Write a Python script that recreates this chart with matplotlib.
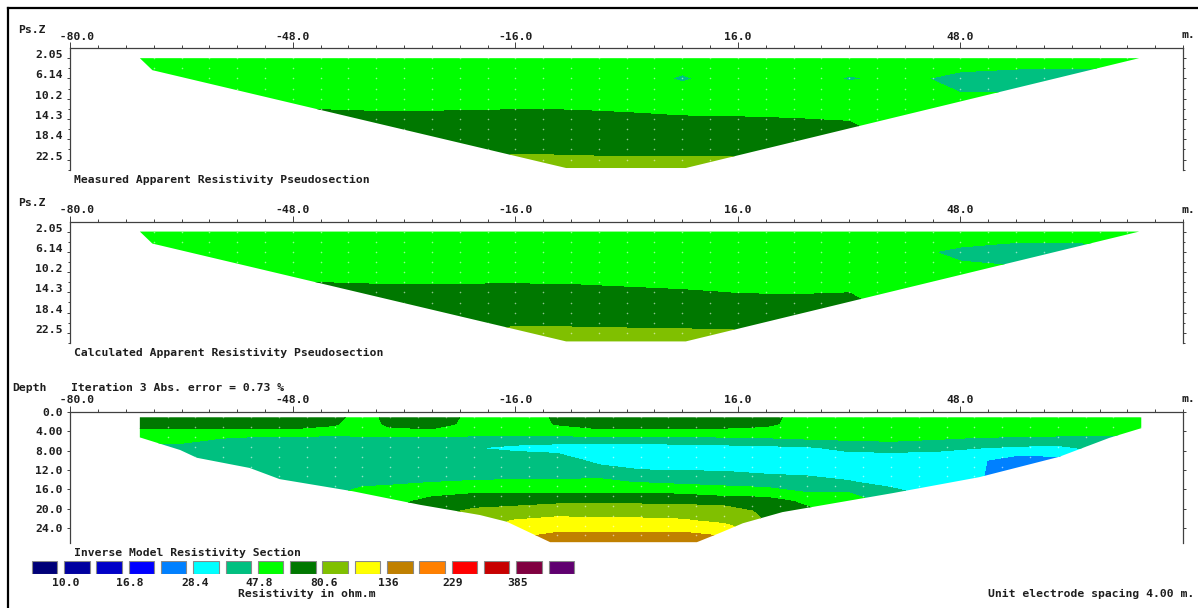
import numpy as np
import matplotlib
matplotlib.use("Agg")
import matplotlib.pyplot as plt
from matplotlib.patches import Polygon
from matplotlib.lines import Line2D
from matplotlib.ticker import FixedLocator

plt.rcParams["font.family"] = "DejaVu Sans Mono"
plt.rcParams["font.weight"] = "bold"
plt.rcParams["font.size"] = 8.2
plt.rcParams["text.color"] = "#1e1e1e"
plt.rcParams["xtick.color"] = "#404040"
plt.rcParams["ytick.color"] = "#404040"
plt.rcParams["xtick.labelcolor"] = "#1e1e1e"
plt.rcParams["ytick.labelcolor"] = "#1e1e1e"

# ---- colour scale (ohm.m) ----
RES_BOUNDS = [10.0, 12.96, 16.8, 21.8, 28.4, 36.8, 47.8, 62.0, 80.6, 104.6,
              136, 176.5, 229, 297, 385, 499]
RES_COLORS = ["#000078", "#0000a0", "#0000c8", "#0000ff", "#0080ff", "#00ffff",
              "#00c080", "#00ff00", "#007800", "#80c000", "#ffff00", "#c08000",
              "#ff8000", "#ff0000", "#c80000", "#800040", "#600070"]
LEGEND_LABELS = ["10.0", "16.8", "28.4", "47.8", "80.6", "136", "229", "385"]

X_TICKS = [-80, -48, -16, 16, 48]
X_TICK_LABELS = ["  -80.0", "-48.0", "-16.0", "16.0", "48.0"]
PS_TICKS = [2.05, 6.14, 10.2, 14.3, 18.4, 22.5]
PS_TICK_LABELS = ["2.05", "6.14", "10.2", "14.3", "18.4", "22.5"]
DEPTH_TICKS = [0, 4, 8, 12, 16, 20, 24]
DEPTH_TICK_LABELS = ["0.0", "4.00", "8.00", "12.0", "16.0", "20.0", "24.0"]

# ---- apparent resistivity pseudosections ----
PS_X = [-72, -64, -56, -48, -40, -32, -24, -16, -8, 0, 8, 16, 24, 32, 40, 48, 56, 64, 72, 80]
PS_Z = [2.05, 6.14, 10.2, 14.3, 18.4, 22.5, 24.6]
MEASURED = [
    [54, 54, 54, 54, 54, 54, 54, 54, 54, 54, 54, 54, 54, 54, 54, 54, 54, 54, 54, 54],
    [54, 54, 54, 54, 54, 54, 54, 54, 54, 54, 46.5, 54, 54, 47, 50, 45, 43, 42, 44, 50],
    [54, 54, 54, 54, 54, 54, 54, 54, 54, 54, 54, 54, 54, 54, 54, 49, 50, 50, 52, 54],
    [72, 72, 72, 72, 68, 67, 68, 69.5, 69, 66, 63.5, 63, 62.2, 61, 56, 54, 54, 54, 54, 54],
    [72, 72, 72, 72, 72, 72, 72, 72, 72, 72, 72, 72, 72, 70, 58, 54, 54, 54, 54, 54],
    [72, 72, 72, 72, 72, 72, 78, 84, 83, 82, 82, 82, 78, 72, 60, 54, 54, 54, 54, 54],
    [75, 75, 75, 75, 75, 75, 80, 88, 88, 88, 88, 88, 80, 75, 62, 54, 54, 54, 54, 54],
]
CALCULATED = [
    [54, 54, 54, 54, 54, 54, 54, 54, 54, 54, 54, 54, 54, 54, 54, 54, 54, 54, 54, 54],
    [54, 54, 54, 54, 54, 54, 54, 54, 54, 54, 54, 54, 54, 54, 50, 46, 43, 43, 45, 50],
    [54, 54, 54, 54, 54, 54, 54, 54, 54, 54, 54, 54, 54, 54, 54, 50, 50, 50, 52, 54],
    [72, 72, 72, 72, 69, 67, 68, 68.5, 67.5, 65, 63.3, 61.5, 61, 61.8, 56, 54, 54, 54, 54, 54],
    [72, 72, 72, 72, 72, 72, 72, 72, 72, 72, 72, 70, 70, 70, 58, 54, 54, 54, 54, 54],
    [72, 72, 72, 72, 72, 72, 78, 85.4, 84.5, 83.6, 83, 82.5, 78, 72, 60, 54, 54, 54, 54, 54],
    [75, 75, 75, 75, 75, 75, 80, 88, 88, 88, 88, 88, 80, 75, 62, 54, 54, 54, 54, 54],
]
# data coverage of the pseudosections
PS_EDGE_X = [-70.0, -68.2, -8.7, 8.5, 73.7]
PS_EDGE_Z = [2.05, 4.47, 24.2, 24.2, 2.05]

# ---- inverse model ----
MODEL_X = [-72, -64, -56, -48, -42, -38, -34, -28, -22, -16, -10, -4, 2, 8, 14, 20,
           26, 32, 38, 44, 50, 56, 62, 68, 76]
MODEL_Z = [1.0, 2.5, 4.0, 5.5, 7.5, 10.0, 12.5, 14.5, 16.5, 18.5, 20.5, 22.5, 24.5, 26.5, 27.5]
MODEL_RES = [
    [71, 71, 71, 71, 68, 54, 68, 71, 58, 54, 64, 71, 71, 71, 71, 68, 54, 54, 54, 54, 54, 54, 54, 54, 54],
    [71, 71, 71, 71, 64, 52, 67, 71, 56, 54, 63, 71, 71, 71, 70, 66, 54, 54, 54, 54, 54, 54, 54, 54, 54],
    [58, 58, 58, 58, 56, 52, 57, 58, 54, 54, 56, 58, 58, 58, 57, 56, 54, 54, 54, 54, 54, 54, 54, 54, 54],
    [54, 52, 46, 44, 44, 46, 44, 44, 45, 44, 44, 44, 44, 45, 46, 47, 49, 50, 51, 49, 47, 46, 45, 44, 44],
    [45, 44, 42, 42, 42, 42, 42, 42, 37, 34, 32, 32, 32, 32, 33, 34, 35, 40, 41, 40, 37, 35, 34, 40, 40],
    [42, 42, 42, 42, 42, 42, 42, 42, 42, 45, 44, 33, 31, 30, 30, 30, 30, 30, 30, 30, 30, 25, 26, 32, 32],
    [44, 44, 42, 42, 42, 42, 42, 42, 42, 42, 42, 44, 38.5, 38, 37.5, 35.5, 34, 33, 31, 30, 30, 24, 25, 30, 30],
    [42, 42, 42, 42, 42, 42.5, 45, 47.5, 49, 50, 50, 50, 47, 45, 44, 43, 42, 37.5, 33, 31, 30, 24, 25, 30, 30],
    [42, 42, 42, 42, 44, 54, 54, 56, 60, 60, 60, 60, 60, 58, 54, 52, 47, 47, 40, 33, 32, 25, 25, 30, 30],
    [42, 42, 42, 44, 50, 54, 56, 68, 71, 71, 76, 76, 76, 75, 72, 71, 58, 54, 44, 35, 32, 25, 25, 30, 30],
    [42, 42, 44, 50, 54, 56, 62, 72, 85, 92, 95, 95, 95, 94, 92, 76, 66, 56, 46, 40, 32, 25, 25, 30, 30],
    [42, 44, 48, 54, 58, 62, 70, 80, 95, 106, 112, 110, 109, 107, 100, 80, 70, 60, 50, 42, 34, 26, 26, 30, 30],
    [42, 44, 50, 56, 62, 68, 78, 88, 100, 120, 130, 130, 130, 130, 118, 95, 80, 66, 54, 44, 36, 28, 28, 30, 30],
    [42, 44, 50, 58, 66, 75, 88, 100, 118, 140, 162, 165, 168, 168, 150, 115, 90, 72, 58, 46, 38, 30, 30, 30, 30],
    [42, 44, 50, 58, 66, 75, 88, 100, 120, 145, 168, 172, 175, 182, 160, 120, 95, 76, 60, 48, 40, 32, 30, 30, 30],
]
MODEL_EDGE_X = [-70.0, -70.0, -64.2, -61.8, -54.2, -49.9, -39.4, -29.7, -21.1, -17.2, -11.0,
                10.1, 13.4, 16.7, 22.4, 38.2, 50.7, 62.2, 69.4, 74.0, 74.0]
MODEL_EDGE_Z = [1.15, 5.3, 7.9, 9.5, 11.6, 13.9, 16.4, 19.2, 21.3, 22.7, 26.9,
                26.9, 25.0, 23.0, 20.7, 16.8, 13.5, 9.3, 5.4, 3.4, 1.15]

W, H = 1198, 608
fig = plt.figure(figsize=(W / 100, H / 100), dpi=100)


def px_axes(left, top, right, bottom):
    return fig.add_axes([left / W, 1 - bottom / H, (right - left) / W, (bottom - top) / H])


def px_text(x, y, s, **kw):
    kw.setdefault("va", "center")
    fig.text(x / W, 1 - y / H, s, **kw)


def draw_section(ax, xs, zs, values, edge_x, edge_z, dot_x, dot_z):
    X, Z = np.meshgrid(xs, zs)
    levels = np.log10([1.0] + RES_BOUNDS + [1e4])
    cs = ax.contourf(X, Z, np.log10(np.array(values, dtype=float)),
                     levels=levels, colors=RES_COLORS)
    clip = Polygon(np.column_stack([edge_x, edge_z]), closed=True,
                   facecolor="none", edgecolor="none", transform=ax.transData)
    ax.add_patch(clip)
    cs.set_clip_path(clip)
    DX, DZ = np.meshgrid(dot_x, dot_z)
    dots = ax.scatter(DX.ravel(), DZ.ravel(), s=1.3, c="white", alpha=0.55, linewidths=0)
    dots.set_clip_path(clip)


def style_axes(ax, ylim, yticks, ylabels, yminor, baseline):
    ax.set_xlim(-80, 80)
    ax.set_ylim(*ylim)
    ax.set_facecolor("none")
    ax.spines["bottom"].set_visible(False)
    for s in ("top", "left", "right"):
        ax.spines[s].set_color("#404040")
        ax.spines[s].set_linewidth(0.9)
    ax.xaxis.tick_top()
    ax.set_xticks(X_TICKS)
    ax.set_xticklabels(X_TICK_LABELS)
    ax.xaxis.set_minor_locator(FixedLocator(np.arange(-80, 81, 4)))
    ax.tick_params(axis="x", which="major", direction="out", length=4, width=0.7, pad=0.5)
    ax.tick_params(axis="x", which="minor", direction="out", length=2.3, width=0.7)
    ax.set_yticks(yticks)
    ax.set_yticklabels(ylabels)
    if yminor is not None:
        ax.yaxis.set_minor_locator(FixedLocator(yminor))
    ax.tick_params(axis="y", which="both", left=True, right=True, labelright=False,
                   direction="out", width=0.7)
    ax.tick_params(axis="y", which="major", length=2.5, pad=3.0)
    ax.tick_params(axis="y", which="minor", length=1.5)
    if baseline:
        for lab in ax.get_yticklabels():
            lab.set_verticalalignment("baseline")


ps_minor = [(a + b) / 2 for a, b in zip(PS_TICKS[:-1], PS_TICKS[1:])] + [24.55]
ps_dot_x = np.arange(-68, 76, 4)
ps_dot_z = 2.05 + 2.045 * np.arange(12)

ax1 = px_axes(70.3, 48.3, 1183, 170)
draw_section(ax1, PS_X, PS_Z, MEASURED, PS_EDGE_X, PS_EDGE_Z, ps_dot_x, ps_dot_z)
style_axes(ax1, (24.6, 0.06), PS_TICKS, PS_TICK_LABELS, ps_minor, True)

ax2 = px_axes(70.3, 221.7, 1183, 343.4)
draw_section(ax2, PS_X, PS_Z, CALCULATED, PS_EDGE_X, PS_EDGE_Z, ps_dot_x, ps_dot_z)
style_axes(ax2, (24.6, 0.06), PS_TICKS, PS_TICK_LABELS, ps_minor, True)

ax3 = px_axes(70.3, 411.7, 1183, 543.3)
draw_section(ax3, MODEL_X, MODEL_Z, MODEL_RES, MODEL_EDGE_X, MODEL_EDGE_Z,
             np.arange(-66, 76, 4), 1.15 + 2.03 * np.arange(14))
style_axes(ax3, (27.13, 0), DEPTH_TICKS, DEPTH_TICK_LABELS, None, False)

# texts
px_text(18, 30, "Ps.Z")
px_text(18, 203, "Ps.Z")
for y in (35, 210, 399):
    px_text(1181.5, y, "m.")
px_text(74, 180, "Measured Apparent Resistivity Pseudosection")
px_text(74, 353, "Calculated Apparent Resistivity Pseudosection")
px_text(12, 388, "Depth")
px_text(71, 388, "Iteration 3 Abs. error = 0.73 %")
px_text(74, 552.7, "Inverse Model Resistivity Section")
px_text(306.7, 594, "Resistivity in ohm.m", ha="center")
px_text(1194, 594, "Unit electrode spacing 4.00 m.", ha="right")

# colour legend
ax_leg = px_axes(28.35, 560.7, 577.45, 574)
ax_leg.bar(np.arange(len(RES_COLORS)), 1, width=0.79, bottom=0, align="center",
           color=RES_COLORS, edgecolor="#8a8a8a", linewidth=0.8)
ax_leg.set_xlim(-0.5, len(RES_COLORS) - 0.5)
ax_leg.set_ylim(0, 1)
ax_leg.axis("off")
for k, lab in enumerate(LEGEND_LABELS):
    ax_leg.text(2 * k + 0.65, -0.65, lab, ha="center", va="center", clip_on=False)

# window frame (left and top edges)
fig.add_artist(Line2D([7.5 / W, 7.5 / W], [0, 1 - 8.3 / H], transform=fig.transFigure,
                      color="black", linewidth=1.6))
fig.add_artist(Line2D([7.5 / W, 1], [1 - 8.3 / H, 1 - 8.3 / H], transform=fig.transFigure,
                      color="black", linewidth=1.6))

fig.savefig("out.png", dpi=100, facecolor="white")
